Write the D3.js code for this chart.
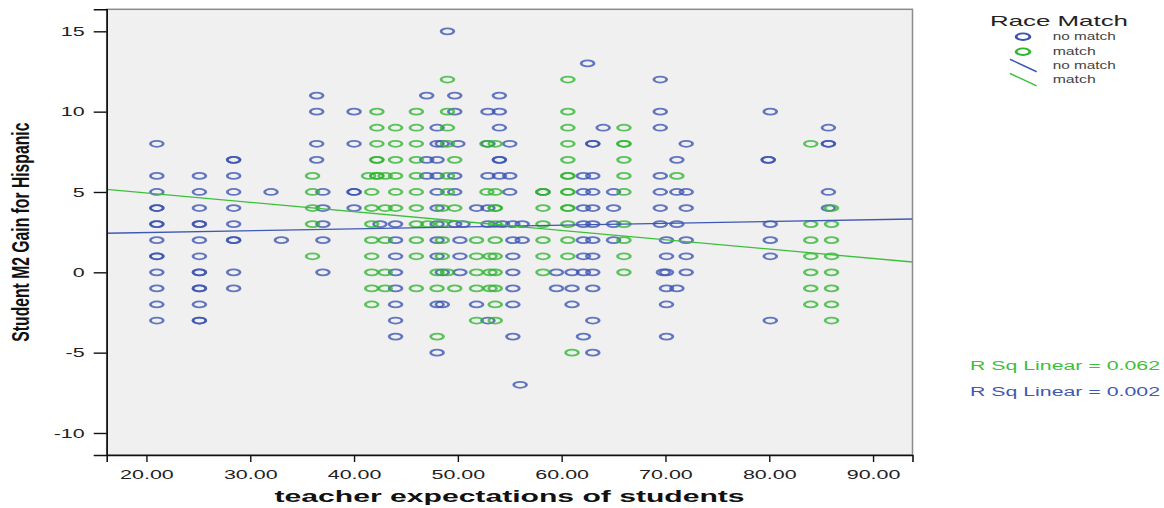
<!DOCTYPE html>
<html><head><meta charset="utf-8">
<script src="https://cdn.jsdelivr.net/npm/d3@7"></script>
<style>body{margin:0;background:#fff;} svg{display:block;}</style>
</head><body><svg id="c" width="1164" height="508"></svg>
<script>
// ---- data ----
const seriesNames = ["no match", "match"];
const seriesColors = ["#3a52b2", "#2fb52f"];
// [teacher expectation, [gain values]]
const noMatchColumns = [
  [21.0,[8,6,5,4,4,3,3,2,1,1,0,-1,-2,-3]],
  [25.1,[6,5,4,3,3,2,1,0,0,-1,-1,-2,-3,-3]],
  [28.4,[7,7,6,5,4,3,2,2,0,-1]],
  [32.0,[5]],
  [33.0,[2]],
  [36.4,[11,10,8,7]],
  [37.0,[5,4,3,2,0]],
  [40.0,[10,8,5,5,4]],
  [42.5,[3]],
  [44.0,[3,2,1,0,-1,-2,-3,-4]],
  [47.0,[11,7,6]],
  [48.0,[9,8,7,6,5,4,3,2,1,-2,-5]],
  [48.5,[8,0,-2]],
  [49.0,[15]],
  [49.7,[11,10,6,5,3]],
  [50.0,[8]],
  [50.2,[2,1,0]],
  [50.5,[3]],
  [51.8,[4,-2]],
  [52.9,[10,8,6,4,3,-3]],
  [54.0,[11,10,9,7,7,6]],
  [54.3,[3]],
  [55.0,[8,6,5]],
  [55.3,[3,2,1,0,-1,-2,-4]],
  [56.0,[-7]],
  [56.2,[3,2]],
  [58.2,[5]],
  [59.5,[0,-1]],
  [61.0,[0,-1,-2]],
  [62.1,[6,5,4,3,2,1,0,-4]],
  [62.5,[13]],
  [63.0,[8,8,6,5,4,3,2,1,0,-1,-3,-5]],
  [64.0,[9]],
  [65.0,[5,4,3,2]],
  [69.5,[12,10,9,6,5,4,3]],
  [69.8,[0]],
  [70.1,[2,1,0,-1,-2,-4]],
  [71.1,[7,5,3,-1]],
  [72.0,[8,5,4,2,1,0]],
  [79.9,[7,7]],
  [80.1,[10,3,2,1,-3]],
  [85.7,[9,8,8,5,4]]
];
const matchColumns = [
  [36.0,[6,5,4,3,1]],
  [41.4,[6]],
  [41.7,[5,4,3,2,1,0,-1,-2]],
  [42.2,[10,9,8,7,7,6,6]],
  [43.0,[6,4,2,0,-1]],
  [44.0,[9,8,7,6,5,4]],
  [46.0,[10,9,8,7,6,5,4,3,2,1,-1]],
  [47.1,[3]],
  [48.0,[0,-1,-4]],
  [48.5,[4,3,2,1]],
  [49.0,[12,10,9,8,6,5,0]],
  [49.7,[7,4,-1]],
  [51.8,[2,1,0,-1,-3]],
  [52.8,[8,5]],
  [53.1,[1,0,-1]],
  [53.6,[8,5,4,4,3,2,1,0,-1,-2,-3]],
  [58.2,[5,5,4,3,2,1,0]],
  [60.6,[12,10,9,8,7,6,6,5,5,4,4,3,2,1]],
  [61.0,[-5]],
  [66.0,[9,8,8,7,6,5,3,2,1,0]],
  [71.1,[6]],
  [84.0,[8,3,2,1,0,-1,-2]],
  [86.0,[4,3,2,1,0,-1,-2,-3]]
];
// fit lines: [no match, match]
const fitIntercept = [2.245, 6.101];
const fitSlope = [0.01146, -0.0582];
const rSquaredLabels = ["R Sq Linear = 0.002", "R Sq Linear = 0.062"];
const xTicks = [20,30,40,50,60,70,80,90];
const xTickLabels = ["20.00","30.00","40.00","50.00","60.00","70.00","80.00","90.00"];
const yTicks = [15,10,5,0,-5,-10];
const yTickLabels = ["15","10","5","0","-5","-10"];
const xDomain = [16.17, 93.8];
const yDomain = [-11.37, 16.37];

// ---- layout ----
const svg = d3.select("#c");
const L = 106.7, R = 912.5, T = 9.3, B = 455;
const SX = 1.65;
const FONT = "'Liberation Sans', Arial, sans-serif";
const x = d3.scaleLinear().domain(xDomain).range([L, R]);
const y = d3.scaleLinear().domain(yDomain).range([B, T]);

function stretch(sel, k) {
  sel.each(function(){
    const w = this.getComputedTextLength();
    d3.select(this).attr("textLength", w * k).attr("lengthAdjust", "spacingAndGlyphs");
  });
}

svg.append("defs").append("clipPath").attr("id","clip")
  .append("rect").attr("x", L).attr("y", T).attr("width", R-L).attr("height", B-T);

svg.append("rect").attr("x", L).attr("y", T).attr("width", R-L).attr("height", B-T)
  .attr("fill", "#f0f0f0").attr("stroke", "#8c8c8c").attr("stroke-width", 1.5);

const pts = [];
[noMatchColumns, matchColumns].forEach((cols, si) => {
  cols.forEach(([xv, ys]) => ys.forEach(yv => pts.push({s: si, x: xv, y: yv})));
});

const plot = svg.append("g").attr("clip-path", "url(#clip)");
plot.selectAll("ellipse").data(pts).join("ellipse")
  .attr("transform", d => `translate(${x(d.x)},${y(d.y)}) scale(1.6,1)`)
  .attr("rx", 4.0).attr("ry", 3.0)
  .attr("fill", "none")
  .attr("stroke", d => seriesColors[d.s])
  .attr("stroke-opacity", 0.78)
  .attr("stroke-width", 1.75);

[0,1].forEach(i => {
  const f = v => fitIntercept[i] + fitSlope[i] * v;
  plot.append("line")
    .attr("x1", x(xDomain[0])).attr("y1", y(f(xDomain[0])))
    .attr("x2", x(xDomain[1])).attr("y2", y(f(xDomain[1])))
    .attr("stroke", i === 0 ? "#3f58b4" : "#3cbf3c").attr("stroke-width", 1.3);
});

// axes
const yAxis = svg.append("g").attr("transform", `translate(${L},0)`)
  .call(d3.axisLeft(y).tickValues(yTicks).tickFormat((d, i) => yTickLabels[i]).tickSize(13).tickPadding(9));
const xAxis = svg.append("g").attr("transform", `translate(0,${B})`)
  .call(d3.axisBottom(x).tickValues(xTicks).tickFormat((d, i) => xTickLabels[i]).tickSize(7).tickPadding(5));
[yAxis, xAxis].forEach(a => {
  a.select(".domain").attr("stroke", "#111").attr("stroke-width", 1.6);
  a.selectAll(".tick line").attr("stroke", "#111").attr("stroke-width", 1.4);
  a.selectAll(".tick text").attr("font-family", FONT).attr("font-size", 13).attr("fill", "#222");
});
xAxis.selectAll(".tick text").attr("dy", "0.9em");
stretch(yAxis.selectAll(".tick text"), SX);
stretch(xAxis.selectAll(".tick text"), SX);

// axis titles
svg.append("text").attr("x", (L+R)/2).attr("y", 502).attr("text-anchor", "middle")
  .attr("font-family", FONT).attr("font-weight", "bold").attr("font-size", 16).attr("fill", "#111")
  .attr("textLength", 470).attr("lengthAdjust", "spacingAndGlyphs")
  .text("teacher expectations of students");
svg.append("text")
  .attr("transform", `translate(28.5,${(T+B)/2}) scale(${SX},1) rotate(-90)`)
  .attr("text-anchor", "middle")
  .attr("font-family", "'Liberation Sans Narrow', 'Liberation Sans', Arial, sans-serif")
  .attr("font-weight", "bold").attr("font-size", 14).attr("fill", "#111")
  .attr("textLength", 219).attr("lengthAdjust", "spacingAndGlyphs")
  .text("Student M2 Gain for Hispanic");

// legend
const lg = svg.append("g");
lg.append("text").attr("x", 990).attr("y", 26).attr("font-family", FONT).attr("font-size", 15)
  .attr("fill", "#222").attr("textLength", 138).attr("lengthAdjust", "spacingAndGlyphs").text("Race Match");
const legRows = [
  {type: "pt", s: 0, y: 36.7, w: 63},
  {type: "pt", s: 1, y: 51.7, w: 43},
  {type: "ln", s: 0, y: 65.5, w: 63},
  {type: "ln", s: 1, y: 79.7, w: 43}
];
legRows.forEach(r => {
  if (r.type === "pt") {
    lg.append("ellipse").attr("transform", `translate(1023,${r.y}) scale(1.6,1)`)
      .attr("rx", 4.3).attr("ry", 3.3)
      .attr("fill", "none").attr("stroke", seriesColors[r.s]).attr("stroke-width", 1.8);
  } else {
    lg.append("line").attr("x1", 1010).attr("y1", r.y - 6.2).attr("x2", 1036.7).attr("y2", r.y + 6.2)
      .attr("stroke", r.s === 0 ? "#3f58b4" : "#3cbf3c").attr("stroke-width", 1.5);
  }
  lg.append("text").attr("x", 1052.7).attr("y", r.y + 3.5).attr("font-family", FONT).attr("font-size", 10)
    .attr("fill", "#444").attr("textLength", r.w).attr("lengthAdjust", "spacingAndGlyphs")
    .text(seriesNames[r.s]);
});

// R squared labels
[[1, 369.5], [0, 396]].forEach(([i, yy]) => {
  svg.append("text").attr("x", 970).attr("y", yy).attr("font-family", FONT).attr("font-size", 12.5)
    .attr("fill", i === 0 ? "#3f58b4" : "#3cbf3c")
    .attr("textLength", 190).attr("lengthAdjust", "spacingAndGlyphs")
    .text(rSquaredLabels[i]);
});
</script>
</body></html>
